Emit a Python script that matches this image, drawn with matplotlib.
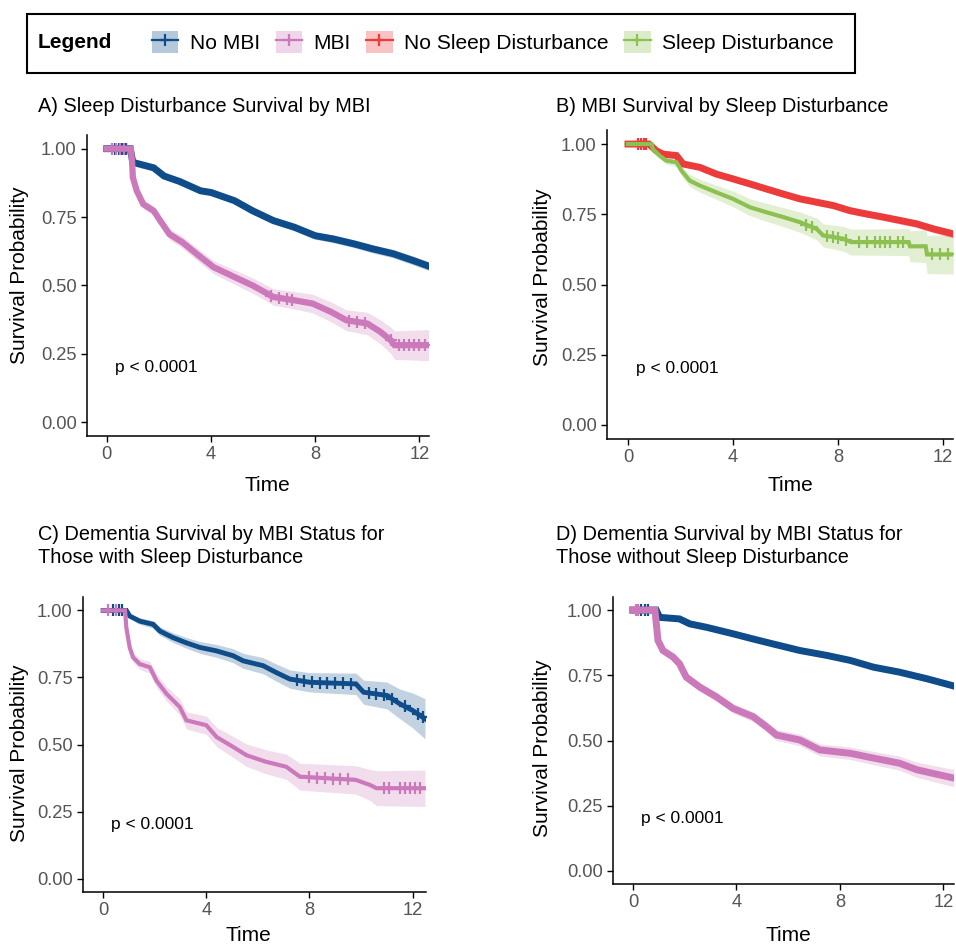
import numpy as np
import matplotlib
matplotlib.use("Agg")
from matplotlib import pyplot as plt
from matplotlib.patches import Patch, Rectangle
from matplotlib.lines import Line2D

plt.rcParams['font.family'] = ['Liberation Sans', 'DejaVu Sans']

# ---- data ----
# A) Sleep disturbance survival by MBI
a_nombi_t = [0, 0.9, 1.0, 1.8, 2.2, 2.8, 3.6, 4.0, 4.9, 5.6, 6.4, 7.2, 8.0, 8.7, 9.5, 10.2, 11.0, 11.8, 12.35]
a_nombi_s = [1.0, 1.0, 0.95, 0.93, 0.90, 0.88, 0.846, 0.84, 0.81, 0.773, 0.737, 0.713, 0.682, 0.67, 0.652, 0.634, 0.616, 0.59, 0.571]
a_nombi_ci = [0, 0, 0.006, 0.008, 0.009, 0.01, 0.01, 0.011, 0.011, 0.012, 0.012, 0.013, 0.013, 0.014, 0.014, 0.015, 0.015, 0.016, 0.016]
a_nombi_cens = [0.3, 0.45, 0.6, 0.75]

a_mbi_t = [0, 0.92, 0.97, 1.0, 1.15, 1.4, 1.8, 2.05, 2.4, 2.9, 3.6, 4.1, 4.9, 5.6, 6.4, 7.2, 7.9, 8.6, 9.2, 10.0, 10.5, 10.9, 11.05, 12.35]
a_mbi_s = [1.0, 1.0, 0.955, 0.895, 0.846, 0.797, 0.773, 0.737, 0.688, 0.658, 0.604, 0.567, 0.531, 0.50, 0.458, 0.446, 0.434, 0.404, 0.373, 0.361, 0.331, 0.30, 0.282, 0.282]
a_mbi_ci = [0, 0, 0.008, 0.012, 0.014, 0.016, 0.017, 0.018, 0.02, 0.021, 0.023, 0.024, 0.026, 0.028, 0.03, 0.032, 0.034, 0.036, 0.038, 0.041, 0.044, 0.048, 0.052, 0.057]
a_mbi_cens = [0.2, 0.35, 0.5, 0.65, 6.3, 6.6, 6.9, 7.1, 9.3, 9.6, 9.9, 10.9, 11.2, 11.4, 11.6, 11.8, 12.0, 12.2]

# B) MBI survival by sleep disturbance
b_nosd_t = [0, 0.8, 1.08, 1.34, 1.85, 2.1, 2.74, 3.37, 4.0, 4.65, 5.28, 5.92, 6.55, 7.19, 7.83, 8.46, 9.1, 9.73, 10.37, 11.0, 11.64, 12.4]
b_nosd_s = [1.0, 1.0, 0.976, 0.964, 0.959, 0.929, 0.917, 0.893, 0.876, 0.858, 0.84, 0.822, 0.805, 0.793, 0.781, 0.763, 0.751, 0.74, 0.728, 0.716, 0.698, 0.68]
b_nosd_ci = [0, 0, 0.005, 0.006, 0.006, 0.007, 0.008, 0.008, 0.009, 0.009, 0.01, 0.01, 0.011, 0.011, 0.011, 0.012, 0.012, 0.012, 0.013, 0.013, 0.014, 0.015]
b_nosd_cens = [0.4, 0.5, 0.6, 0.7]

b_sd_t = [0, 0.9, 0.95, 1.2, 1.46, 1.85, 2.04, 2.35, 2.74, 3.37, 4.0, 4.65, 5.28, 5.92, 6.55, 7.19, 7.44, 8.2, 8.5, 10.7, 10.75, 11.35, 11.4, 12.4]
b_sd_s = [1.0, 1.0, 0.982, 0.959, 0.941, 0.935, 0.905, 0.87, 0.852, 0.828, 0.805, 0.775, 0.757, 0.74, 0.722, 0.698, 0.675, 0.663, 0.651, 0.651, 0.636, 0.636, 0.607, 0.607]
b_sd_ci = [0, 0, 0.007, 0.01, 0.013, 0.015, 0.018, 0.021, 0.023, 0.025, 0.028, 0.03, 0.032, 0.034, 0.036, 0.039, 0.041, 0.044, 0.046, 0.048, 0.055, 0.058, 0.068, 0.07]
b_sd_cens = [6.8, 7.0, 7.6, 7.8, 8.0, 8.3, 8.8, 9.1, 9.4, 9.6, 9.8, 10.0, 10.3, 10.5, 11.6, 11.9, 12.2]

# C) dementia survival by MBI, with sleep disturbance
c_nombi_t = [0, 0.9, 1.03, 1.42, 1.94, 2.2, 2.7, 3.2, 3.75, 4.4, 5.04, 5.43, 6.2, 6.7, 7.24, 8.0, 9.8, 10.1, 11.0, 11.5, 12.0, 12.48]
c_nombi_s = [1.0, 1.0, 0.979, 0.96, 0.948, 0.923, 0.899, 0.88, 0.862, 0.849, 0.831, 0.812, 0.794, 0.769, 0.744, 0.732, 0.726, 0.695, 0.683, 0.652, 0.627, 0.596]
c_nombi_ci = [0, 0, 0.008, 0.012, 0.014, 0.016, 0.018, 0.02, 0.022, 0.024, 0.026, 0.028, 0.03, 0.032, 0.034, 0.036, 0.04, 0.045, 0.05, 0.055, 0.065, 0.075]
c_nombi_cens = [0.4, 0.6, 0.75, 7.5, 7.8, 8.1, 8.4, 8.7, 9.0, 9.3, 9.6, 10.3, 10.6, 10.9, 11.2, 11.7, 12.2, 12.4]

c_mbi_t = [0, 0.85, 0.9, 1.03, 1.16, 1.42, 1.81, 2.07, 2.46, 2.97, 3.23, 4.0, 4.4, 5.04, 5.56, 6.3, 7.1, 7.63, 9.8, 10.35, 10.6, 12.48]
c_mbi_s = [1.0, 1.0, 0.936, 0.862, 0.825, 0.80, 0.788, 0.738, 0.689, 0.64, 0.59, 0.572, 0.528, 0.491, 0.46, 0.436, 0.417, 0.38, 0.368, 0.349, 0.337, 0.337]
c_mbi_ci = [0, 0, 0.01, 0.015, 0.018, 0.02, 0.022, 0.025, 0.027, 0.03, 0.032, 0.034, 0.036, 0.039, 0.042, 0.045, 0.047, 0.05, 0.053, 0.058, 0.065, 0.068]
c_mbi_cens = [0.2, 0.5, 8.0, 8.3, 8.6, 8.9, 9.2, 9.5, 10.9, 11.1, 11.5, 11.7, 11.9, 12.1, 12.3]

# D) dementia survival by MBI, without sleep disturbance
d_nombi_t = [0, 0.9, 1.03, 1.8, 2.2, 2.84, 3.87, 4.65, 5.42, 6.45, 7.5, 8.4, 9.3, 10.3, 11.35, 12.4]
d_nombi_s = [1.0, 1.0, 0.972, 0.966, 0.947, 0.934, 0.909, 0.889, 0.87, 0.845, 0.826, 0.807, 0.781, 0.762, 0.737, 0.709]
d_nombi_ci = [0, 0, 0.004, 0.005, 0.005, 0.006, 0.006, 0.007, 0.007, 0.008, 0.008, 0.009, 0.009, 0.01, 0.011, 0.012]
d_nombi_cens = [0.3, 0.45, 0.6]

d_mbi_t = [0, 0.85, 0.97, 1.16, 1.55, 1.8, 2.06, 2.58, 3.23, 3.87, 4.65, 5.16, 5.55, 6.45, 7.22, 8.4, 9.03, 10.3, 10.97, 12.4]
d_mbi_s = [1.0, 1.0, 0.883, 0.845, 0.82, 0.794, 0.743, 0.705, 0.667, 0.623, 0.591, 0.553, 0.521, 0.502, 0.464, 0.451, 0.438, 0.413, 0.388, 0.356]
d_mbi_ci = [0, 0, 0.01, 0.012, 0.013, 0.014, 0.015, 0.016, 0.017, 0.018, 0.019, 0.02, 0.021, 0.022, 0.023, 0.024, 0.025, 0.027, 0.029, 0.033]
d_mbi_cens = [0.1, 0.2]

legend_labels = ['No MBI', 'MBI', 'No Sleep Disturbance', 'Sleep Disturbance']
titles = ['A) Sleep Disturbance Survival by MBI',
          'B) MBI Survival by Sleep Disturbance',
          'C) Dementia Survival by MBI Status for\nThose with Sleep Disturbance',
          'D) Dementia Survival by MBI Status for\nThose without Sleep Disturbance']
p_text = 'p < 0.0001'

BLUE = '#0f4c8a'
PINK = '#cc79bb'
RED = '#ec3b3b'
GREEN = '#8cc152'

W, H = 956, 946


def px(x, y):
    return x / W, 1 - y / H


def box(l, t, r, b):
    return [l / W, 1 - b / H, (r - l) / W, (b - t) / H]


def draw_curve(ax, t, s, ci, cens, color, lw):
    t = np.array(t)
    s = np.array(s)
    ci = np.array(ci)
    ax.fill_between(t, s - ci, s + ci, color=color, alpha=0.25, lw=0)
    ax.plot(t, s, color=color, lw=lw, solid_joinstyle='miter')
    ax.plot(cens, np.interp(cens, t, s), ls='none', marker='+', ms=8,
            mew=1.6, color=color)


fig = plt.figure(figsize=(W / 100, H / 100), dpi=100)

panels = [
    (box(87, 135, 429, 436), (-0.76, 12.37),
     [(a_nombi_t, a_nombi_s, a_nombi_ci, a_nombi_cens, BLUE, 5),
      (a_mbi_t, a_mbi_s, a_mbi_ci, a_mbi_cens, PINK, 4.5)]),
    (box(607, 130, 953, 439), (-0.8, 12.39),
     [(b_nosd_t, b_nosd_s, b_nosd_ci, b_nosd_cens, RED, 5),
      (b_sd_t, b_sd_s, b_sd_ci, b_sd_cens, GREEN, 3)]),
    (box(83, 597, 426, 892), (-0.78, 12.52),
     [(c_nombi_t, c_nombi_s, c_nombi_ci, c_nombi_cens, BLUE, 3.5),
      (c_mbi_t, c_mbi_s, c_mbi_ci, c_mbi_cens, PINK, 3)]),
    (box(613, 597, 954, 884), (-0.77, 12.41),
     [(d_nombi_t, d_nombi_s, d_nombi_ci, d_nombi_cens, BLUE, 5),
      (d_mbi_t, d_mbi_s, d_mbi_ci, d_mbi_cens, PINK, 5)]),
]

title_pos = [(38, 106), (556, 106), (38, 546), (556, 546)]
ylab_pos = [(20, 275), (543, 277), (20, 753), (543, 748)]
xlab_pos = [(267, 485), (790, 485), (248, 935), (788, 935)]

for i, (rect, xlim, curves) in enumerate(panels):
    ax = fig.add_axes(rect)
    for t, s, ci, cens, color, lw in curves:
        draw_curve(ax, t, s, ci, cens, color, lw)
    ax.set_xlim(*xlim)
    ax.set_ylim(-0.05, 1.05)
    ax.set_xticks([0, 4, 8, 12])
    ax.set_yticks([0, 0.25, 0.5, 0.75, 1.0])
    ax.set_yticklabels(['0.00', '0.25', '0.50', '0.75', '1.00'])
    for side in ['top', 'right']:
        ax.spines[side].set_visible(False)
    for side in ['left', 'bottom']:
        ax.spines[side].set_linewidth(1.1)
    ax.tick_params(labelsize=13.2, labelcolor='#555555', length=4, width=1)
    ax.text(0.3, 0.2, p_text, fontsize=12.5, ha='left', va='center')

    fig.text(*px(*title_pos[i]), titles[i], fontsize=14.3, ha='left',
             va='center', linespacing=1.25)
    fig.text(*px(*ylab_pos[i]), 'Survival Probability', fontsize=15,
             rotation=90, ha='center', va='center')
    fig.text(*px(*xlab_pos[i]), 'Time', fontsize=15, ha='center', va='center')

# legend box across the top
fig.patches.append(Rectangle(px(27, 73), 828 / W, 59 / H, transform=fig.transFigure,
                             fill=False, ec='black', lw=1.5))
fig.text(*px(38, 42), 'Legend', fontsize=15, fontweight='bold', ha='left', va='center')
handles = []
for c in [BLUE, PINK, RED, GREEN]:
    handles.append((Patch(facecolor=c, alpha=0.3, lw=0),
                    Line2D([], [], color=c, marker='+', ms=9, mew=1.6, lw=1.6)))
fig.legend(handles, legend_labels, loc='center left', bbox_to_anchor=px(152, 42),
           ncol=4, frameon=False, fontsize=15.1, handlelength=1.25, handleheight=1.2,
           handletextpad=0.55, columnspacing=0.75, borderaxespad=0, borderpad=0)

fig.savefig('out.png', dpi=100)
